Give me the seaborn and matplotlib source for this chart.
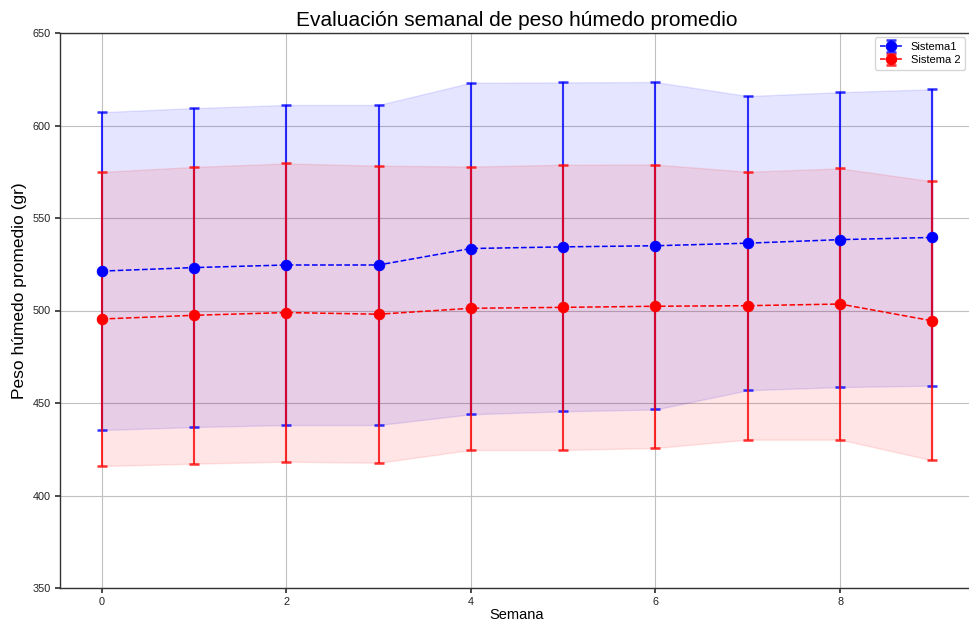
import matplotlib
matplotlib.use("Agg")
import matplotlib.pyplot as plt
import seaborn as sns
import pandas as pd
import numpy as np

semanas = [0, 1, 2, 3, 4, 5, 6, 7, 8, 9]
media_s1 = [521.3, 523.2, 524.6, 524.6, 533.5, 534.4, 535.0, 536.4, 538.3, 539.5]
std_s1 = [85.9, 86.2, 86.5, 86.5, 89.6, 88.9, 88.5, 79.5, 79.7, 80.1]
media_s2 = [495.4, 497.4, 498.9, 498.0, 501.2, 501.7, 502.3, 502.6, 503.5, 494.4]
std_s2 = [79.5, 80.2, 80.6, 80.3, 76.6, 77.1, 76.6, 72.4, 73.3, 75.4]
etiquetas = ["Sistema1", "Sistema 2"]
colores = ["blue", "red"]
yticks = [350, 400, 450, 500, 550, 600, 650]
xticks = [0, 2, 4, 6, 8]

sns.set_theme(style="whitegrid")
plt.rcParams["font.family"] = ["Liberation Sans", "DejaVu Sans"]
plt.rcParams["axes.edgecolor"] = "#333333"
plt.rcParams["grid.color"] = "#c0c0c0"
plt.rcParams["text.color"] = "black"
plt.rcParams["axes.labelcolor"] = "black"

fig = plt.figure(figsize=(9.69, 6.23), dpi=100)
ax = fig.add_axes([60 / 969, 35 / 623, 914 / 969, 555 / 623])

series = [(media_s1, std_s1), (media_s2, std_s2)]
handles = []
for (m, s), lab, col in zip(series, etiquetas, colores):
    m = np.array(m)
    s = np.array(s)
    df = pd.DataFrame({"Semana": semanas, "Peso": m})
    ax.fill_between(semanas, m - s, m + s, color=col, alpha=0.1, zorder=1)
    eb = ax.errorbar(semanas, m, yerr=s, fmt="none", ecolor=col, elinewidth=1.5,
                     capsize=3.6, capthick=1.8, alpha=0.8, zorder=1.9)
    sns.lineplot(data=df, x="Semana", y="Peso", ax=ax, color=col, linestyle="--",
                 marker="o", markersize=7.5, markeredgecolor=col, linewidth=1.1,
                 legend=False, zorder=2)
    line = ax.lines[-1]
    handles.append((eb, line))

ax.set_xlim(-0.45, 9.45)
ax.set_ylim(350, 650)
ax.set_yticks(yticks)
ax.set_xticks(xticks)
ax.tick_params(axis="both", labelsize=7.8, length=3.5, color="#333333",
               labelcolor="#222222", pad=3, bottom=True, left=True)
for sp in ax.spines.values():
    sp.set_linewidth(1.0)
ax.grid(True, linewidth=0.8)

ax.set_title("Evaluación semanal de peso húmedo promedio", fontsize=15, pad=5)
ax.set_xlabel("Semana", fontsize=10.5, labelpad=1)
ax.set_ylabel("Peso húmedo promedio (gr)", fontsize=12.5, labelpad=2)
ax.yaxis.set_label_coords(-0.036, 0.535)

ax.legend(handles=handles, labels=etiquetas, loc="upper right",
          bbox_to_anchor=(0.99, 0.992), borderaxespad=0, fontsize=8,
          frameon=True, framealpha=0.8, edgecolor="#cccccc",
          handlelength=2.0, borderpad=0.4, labelspacing=0.3)

fig.savefig("out.png", dpi=100)
